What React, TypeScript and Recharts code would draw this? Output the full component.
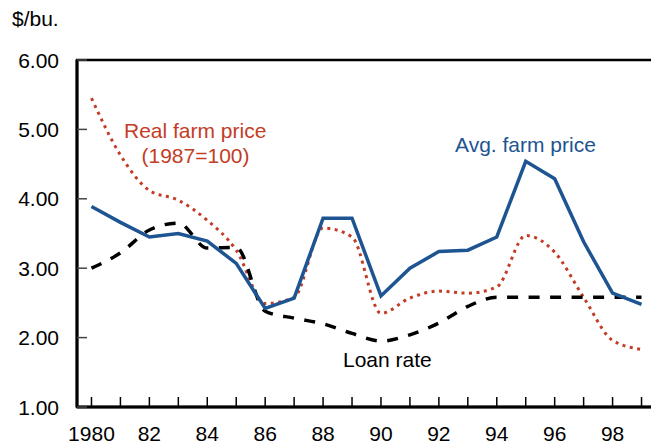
import React from 'react'
import { LineChart, Line, XAxis, YAxis, ReferenceArea } from 'recharts'

const years = [
  1980, 1981, 1982, 1983, 1984, 1985, 1986, 1987, 1988, 1989,
  1990, 1991, 1992, 1993, 1994, 1995, 1996, 1997, 1998, 1999,
]
const avgFarmPrice = [
  3.89, 3.66, 3.45, 3.5, 3.39, 3.07, 2.42, 2.57, 3.72, 3.72,
  2.6, 3.0, 3.24, 3.26, 3.45, 4.54, 4.29, 3.38, 2.64, 2.48,
]
const realFarmPrice = [
  5.45, 4.63, 4.12, 3.98, 3.69, 3.26, 2.49, 2.58, 3.58, 3.45,
  2.35, 2.57, 2.67, 2.64, 2.73, 3.47, 3.23, 2.58, 1.96, 1.83,
]
const loanRate = [
  3.0, 3.22, 3.55, 3.65, 3.29, 3.3, 2.38, 2.28, 2.2, 2.06,
  1.95, 2.04, 2.21, 2.45, 2.58, 2.58, 2.58, 2.58, 2.58, 2.58,
]
const xTickLabels = [
  '1980', '', '82', '', '84', '', '86', '', '88', '',
  '90', '', '92', '', '94', '', '96', '', '98', '',
]
const yTicks = [1, 2, 3, 4, 5, 6]
const yTickLabels = ['1.00', '2.00', '3.00', '4.00', '5.00', '6.00']

const data = years.map((year, i) => ({
  year,
  avg: avgFarmPrice[i],
  real: realFarmPrice[i],
  loan: loanRate[i],
}))

const FONT = '"Liberation Sans", Arial, Helvetica, sans-serif'
const BLUE = '#1d5491'
const RED = '#c33d26'

function XTick(props: any) {
  const { x, y, payload } = props
  const idx = years.indexOf(payload.value)
  const label = idx >= 0 ? xTickLabels[idx] : ''
  return (
    <g>
      <line x1={x} x2={x} y1={y} y2={y - 10} stroke="#000" strokeWidth={1.5} />
      {label && (
        <text x={x} y={y + 34} textAnchor="middle" fontSize={21} fontFamily={FONT} fill="#000">
          {label}
        </text>
      )}
    </g>
  )
}

function YTick(props: any) {
  const { x, y, payload } = props
  const idx = yTicks.indexOf(payload.value)
  return (
    <g>
      <line x1={x} x2={x + 10} y1={y} y2={y} stroke="#444" strokeWidth={1.5} />
      <text x={x - 18} y={y} dy="0.36em" textAnchor="end" fontSize={21} fontFamily={FONT} fill="#000">
        {yTickLabels[idx]}
      </text>
    </g>
  )
}

export default function App() {
  return (
    <div style={{ position: 'relative', width: 651, height: 440 }}>
      <LineChart width={651} height={440} data={data} margin={{ top: 52, right: 3, bottom: 0, left: 0 }}>
        <ReferenceArea x1={1979.5} x2={1999.5} y1={1} y2={6} fill="none" stroke="#000" strokeWidth={2.5} />
        <XAxis
          dataKey="year"
          type="number"
          domain={[1979.5, 1999.5]}
          ticks={years}
          interval={0}
          height={41}
          tickSize={0}
          tickMargin={0}
          tick={<XTick />}
          axisLine={{ stroke: '#000', strokeWidth: 3 }}
          tickLine={false}
        />
        <YAxis
          domain={[1, 6]}
          ticks={yTicks}
          interval={0}
          width={69}
          tickSize={0}
          tickMargin={0}
          tick={<YTick />}
          axisLine={{ stroke: '#000', strokeWidth: 3 }}
          tickLine={false}
        />
        <Line
          type="monotone"
          dataKey="real"
          stroke={RED}
          strokeWidth={3}
          strokeDasharray="3 4.5"
          dot={false}
          isAnimationActive={false}
        />
        <Line
          type="monotone"
          dataKey="loan"
          stroke="#000"
          strokeWidth={3.5}
          strokeDasharray="11 10.5"
          dot={false}
          isAnimationActive={false}
        />
        <Line
          type="linear"
          dataKey="avg"
          stroke={BLUE}
          strokeWidth={3.5}
          dot={false}
          isAnimationActive={false}
        />
      </LineChart>
      <svg
        width={651}
        height={440}
        style={{ position: 'absolute', left: 0, top: 0, pointerEvents: 'none' }}
        fontFamily={FONT}
        fontSize={21}
      >
        <text x={4} y={18} fill="#000">$/bu.</text>
        <text x={116} y={130} fill={RED}>Real farm price</text>
        <text x={187.5} y={155} fill={RED} textAnchor="middle">(1987=100)</text>
        <text x={447} y={144} fill={BLUE}>Avg. farm price</text>
        <text x={335} y={359} fill="#000">Loan rate</text>
      </svg>
    </div>
  )
}
